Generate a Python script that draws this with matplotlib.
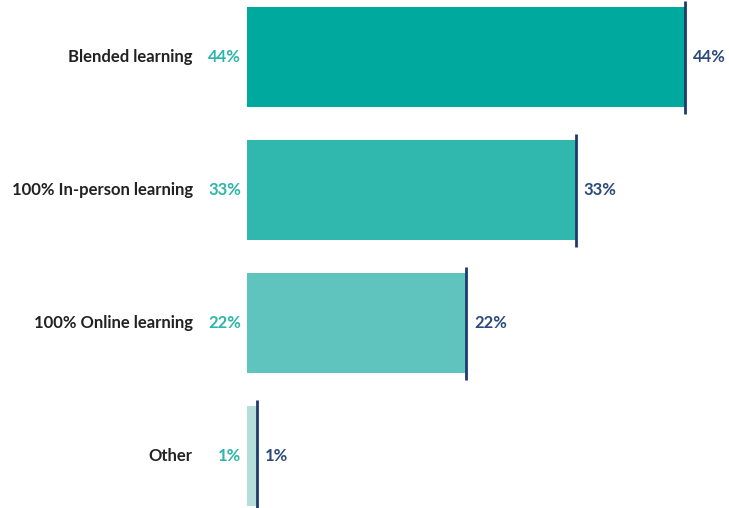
import matplotlib
matplotlib.use("Agg")
import matplotlib.pyplot as plt

categories = ["Blended learning", "100% In-person learning", "100% Online learning", "Other"]
values = [44, 33, 22, 1]
labels = ["44%", "33%", "22%", "1%"]
bar_colors = ["#00A99D", "#30B8AE", "#5EC4BD", "#B5DEDA"]

plt.rcParams['font.family'] = ['Lato', 'DejaVu Sans']

fig = plt.figure(figsize=(7.29, 5.08), dpi=100)
ax = fig.add_axes([247/729, 0, 482/729, 1])
ypos = list(range(len(categories)))
bh = 0.75
ax.barh(ypos, values, height=bh, color=bar_colors, zorder=1)
for y, v, lab, cat in zip(ypos, values, labels, categories):
    ax.plot([v, v], [y - bh/2 - 0.05, y + bh/2 + 0.05], color="#1F3A6E", lw=2, solid_capstyle='butt', zorder=2)
    ax.text(v + 0.8, y, lab, va='center', ha='left', fontsize=12, fontweight='bold', color="#2B4A7A")
    ax.text(-0.6, y, lab, va='center', ha='right', fontsize=12, fontweight='bold', color="#2BB5AC")
    ax.annotate(cat, xy=(0, y), xycoords='data', xytext=(-39, 0), textcoords='offset points',
                va='center', ha='right', fontsize=12, fontweight='bold', color="#222222")
ax.set_xlim(0, 44*482/438)
ax.set_ylim(3.39, -0.43)
ax.axis('off')
fig.savefig("out.png", dpi=100)
